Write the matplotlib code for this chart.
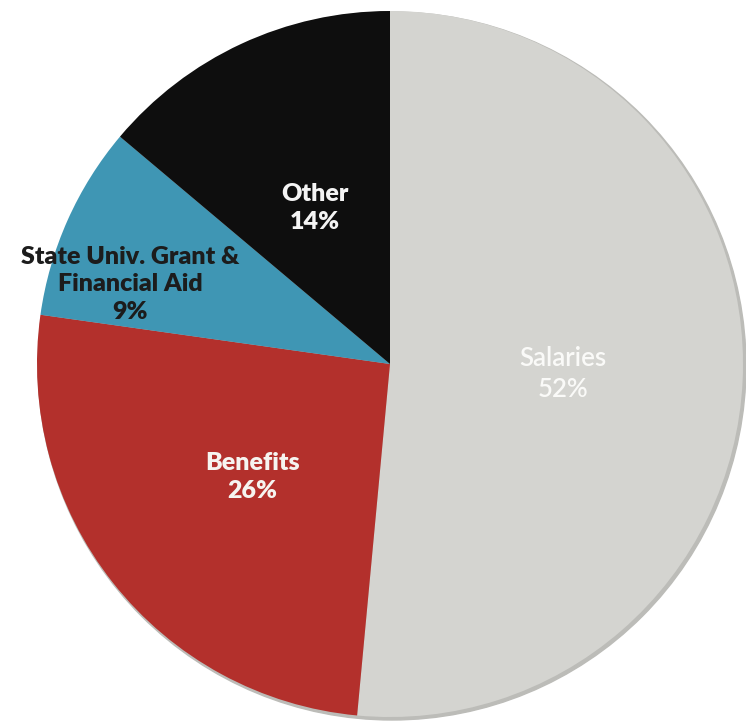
import numpy as np
import matplotlib.pyplot as plt
from matplotlib.patches import Circle

# === Budget breakdown ===
categories = ["Salaries", "Benefits", "State Univ. Grant &\nFinancial Aid", "Other"]
percents = [52, 26, 9, 14]
colors = ["#d4d4d0", "#b3302c", "#3f96b4", "#0e0e0e"]
text_colors = ["#fafaf8", "#f6f4f0", "#1c1c1c", "#f4f4f4"]
weights = ["semibold", "heavy", "heavy", "heavy"]
sizes = [18.5, 18, 18, 18]

# label placement: fraction of radius, angle nudge in degrees
label_radius = [0.49, 0.505, 0.77, 0.49]
label_nudge = [-0.7, 1.0, 7.0, 0.8]

W, H = 746, 721
cx, cy, R = 390, H - 364, 353

fig = plt.figure(figsize=(W / 100, H / 100), dpi=100)
ax = fig.add_axes([0, 0, 1, 1])

# soft shadow along the lower right rim
ax.add_patch(Circle((cx + 2, cy - 2), R + 1, color="#bcbcb8", zorder=0))

wedges, _ = ax.pie(percents, colors=colors, startangle=90, counterclock=False,
                   center=(cx, cy), radius=R, frame=True,
                   wedgeprops=dict(linewidth=0))
ax.set_xlim(0, W)
ax.set_ylim(0, H)
ax.set_aspect("equal")
ax.axis("off")

for w, name, pct, tc, fw, fs, rf, dn in zip(wedges, categories, percents, text_colors,
                                           weights, sizes, label_radius, label_nudge):
    mid = np.deg2rad((w.theta1 + w.theta2) / 2 + dn)
    x = cx + rf * R * np.cos(mid)
    y = cy + rf * R * np.sin(mid)
    ax.text(x, y, f"{name}\n{pct}%", ha="center", va="center", color=tc,
            fontsize=fs, fontweight=fw, family=["Lato", "DejaVu Sans"],
            linespacing=1.32)

fig.savefig("out.png", dpi=100, facecolor="white")
